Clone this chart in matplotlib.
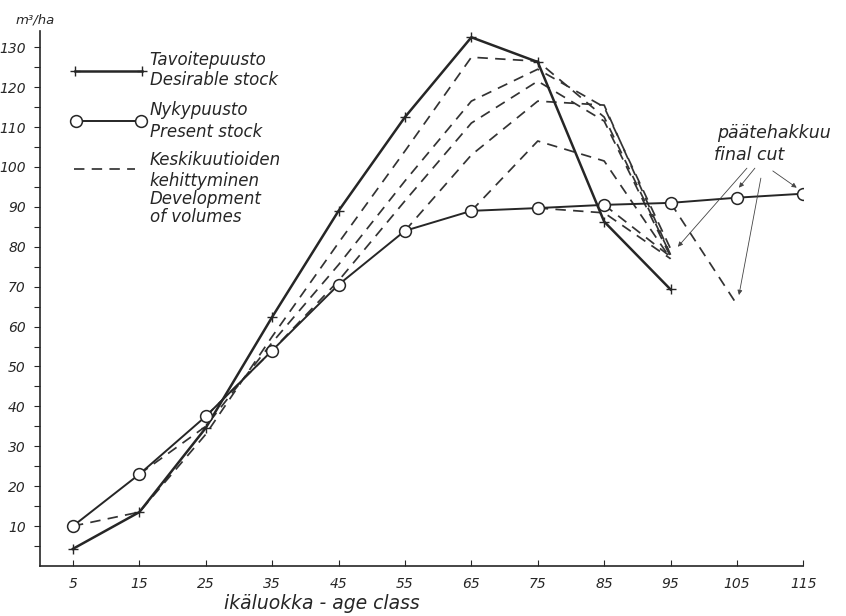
import matplotlib
matplotlib.use("Agg")
import matplotlib.pyplot as plt

# age classes
ages_present = [5, 15, 25, 35, 45, 55, 65, 75, 85, 95, 105, 115]
present_stock = [10, 23, 37.5, 54, 70.5, 84, 89, 89.7, 90.5, 91, 92.3, 93.3]

ages_desirable = [5, 15, 25, 35, 45, 55, 65, 75, 85, 95]
desirable_stock = [4.3, 13.5, 34.6, 62.4, 89, 112.5, 132.5, 126.3, 86.3, 69.3]

# development of volumes (dashed), one list per cohort: (ages, volumes)
dev_lines = [
    ([5, 15, 25, 35, 45, 55, 65, 75, 85, 95], [10, 13.5, 33, 57.5, 81, 104, 127.5, 126.5, 112.5, 78]),
    ([15, 25, 35, 45, 55, 65, 75, 85, 95], [23, 35, 56, 75.5, 96.5, 116.5, 124.5, 115, 79.5]),
    ([25, 35, 45, 55, 65, 75, 85, 95], [37.5, 54, 71.5, 91.5, 111, 121.5, 111.5, 77.5]),
    ([55, 65, 75, 85, 95], [84, 103, 116.5, 115.5, 78]),
    ([65, 75, 85, 95], [89, 106.5, 101.5, 77]),
    ([75, 85, 95], [89.7, 88.5, 77]),
    ([85, 95], [90.5, 77.5]),
    ([95, 105], [91, 65.5]),
]

# "final cut" arrows: (start, tip) in data units
cut_arrows = [
    ((106.5, 99.7), (96.1, 80.0)),
    ((107.7, 99.7), (105.3, 94.8)),
    ((108.6, 97.2), (105.3, 67.9)),
    ((110.4, 99.0), (114.0, 94.8)),
]

INK = "#262626"
FONT = "DejaVu Sans"
DASH = (6, 4.2)

fig = plt.figure(figsize=(8.46, 6.16), dpi=100)
fig.patch.set_facecolor("white")
ax = fig.add_axes([0.047, 0.0812, 0.9026, 0.868])
ax.set_xlim(0, 115)
ax.set_ylim(0, 134)

for xs, ys in dev_lines:
    ax.plot(xs, ys, color="#333333", linewidth=1.25, dashes=DASH, zorder=2)

ax.plot(ages_desirable, desirable_stock, color=INK, linewidth=1.8,
        marker="+", markersize=7, markeredgewidth=1.0, zorder=3)
ax.plot(ages_present, present_stock, color=INK, linewidth=1.4,
        marker="o", markersize=8.5, markerfacecolor="white",
        markeredgecolor=INK, markeredgewidth=1.1, zorder=4)

for (sx, sy), (tx, ty) in cut_arrows:
    ax.annotate("", xy=(tx, ty), xytext=(sx, sy),
                arrowprops=dict(arrowstyle="-|>", lw=0.6, color="#444444",
                                mutation_scale=7, shrinkA=0, shrinkB=0),
                annotation_clip=False, zorder=5)

txt = dict(family=FONT, style="italic", color=INK)
ax.text(102.0, 108.5, "päätehakkuu", fontsize=12.5, va="center", ha="left",
        clip_on=False, **txt)
ax.text(101.5, 103.0, "final cut", fontsize=12.5, va="center", ha="left",
        clip_on=False, **txt)

# hand-drawn style legend
tr = ax.transAxes
ax.plot([0.046, 0.134], [0.926, 0.926], color=INK, linewidth=1.8,
        marker="+", markersize=7, markeredgewidth=1.0, transform=tr)
ax.plot([0.047, 0.132], [0.832, 0.832], color=INK, linewidth=1.4,
        marker="o", markersize=8.5, markerfacecolor="white",
        markeredgecolor=INK, markeredgewidth=1.1, transform=tr)
ax.plot([0.045, 0.125], [0.742, 0.742], color="#333333", linewidth=1.25,
        dashes=DASH, transform=tr)
legend_rows = [
    (0.946, "Tavoitepuusto"), (0.909, "Desirable stock"),
    (0.853, "Nykypuusto"), (0.812, "Present stock"),
    (0.759, "Keskikuutioiden"), (0.720, "kehittyminen"),
    (0.686, "Development"), (0.652, "of volumes"),
]
for yy, s in legend_rows:
    ax.text(0.144, yy, s, transform=tr, fontsize=12, va="center", ha="left", **txt)

# axes styling
for side in ("top", "right"):
    ax.spines[side].set_visible(False)
for side in ("left", "bottom"):
    ax.spines[side].set_color(INK)
    ax.spines[side].set_linewidth(1.2)

ax.set_xticks(ages_present)
ax.set_xticklabels([str(a) for a in ages_present], fontsize=10, **txt)
ax.tick_params(axis="x", direction="in", length=4, width=0.8, color=INK, pad=8)

ax.set_yticks(range(10, 131, 10))
ax.set_yticklabels([str(v) for v in range(10, 131, 10)], fontsize=10, **txt)
ax.set_yticks(range(5, 135, 10), minor=True)
ax.tick_params(axis="y", which="both", direction="out", length=4, width=0.8,
               color=INK, pad=6)

ax.set_xlabel("ikäluokka - age class", fontsize=13.5,
              family=FONT, style="italic", color=INK)
ax.xaxis.set_label_coords(0.37, -0.052)

fig.text(0.018, 0.968, "m³/ha", fontsize=9.5, ha="left", va="center",
         family=FONT, style="italic", color=INK)

fig.savefig("out.png", dpi=100, facecolor="white")
plt.close(fig)
